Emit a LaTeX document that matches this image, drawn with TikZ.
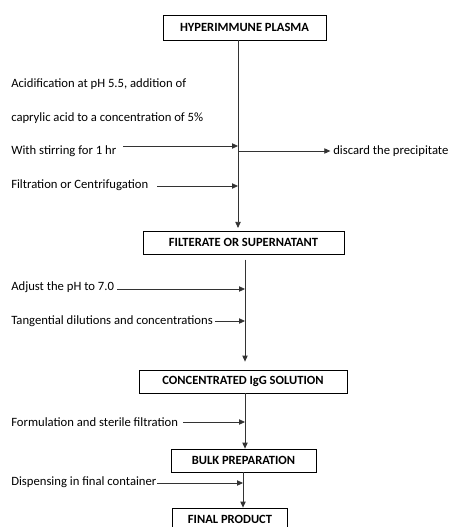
\documentclass[tikz,border=0pt]{standalone}
\usepackage{fontspec}
\setmainfont{Carlito}
\usetikzlibrary{arrows.meta,positioning}

\begin{document}
\begin{tikzpicture}[x=0.75pt,y=-0.75pt,
	stepbox/.style={draw,line width=0.6pt,inner sep=0pt,font=\fontsize{9.4}{11}\selectfont\bfseries},
	note/.style={anchor=west,inner sep=0pt,font=\fontsize{9.5}{11}\selectfont},
	flow/.style={-{Triangle[length=4.5pt,width=4pt]},line width=0.6pt,black!80}]
	\clip (0,0) rectangle (452,527);
	\useasboundingbox (0,0) rectangle (452,527);

	% process boxes
	\node[stepbox,minimum width=122.25pt,minimum height=18.75pt] (B1) at (244.5,27.5) {HYPERIMMUNE PLASMA};
	\node[stepbox,minimum width=150.75pt,minimum height=17.25pt] (B2) at (243.5,242.5) {FILTERATE OR SUPERNATANT};
	\node[stepbox,minimum width=156pt,minimum height=17.25pt] (B3) at (243,381.5) {CONCENTRATED IgG SOLUTION};
	\node[stepbox,minimum width=108.75pt,minimum height=17.25pt] (B4) at (243.5,460.5) {BULK PREPARATION};
	\node[stepbox,minimum width=86.25pt,minimum height=17.25pt] (B5) at (230,519.5) {FINAL PRODUCT};

	% side notes
	\node[note] (T1) at (11,84) {Acidification at pH 5.5, addition of};
	\node[note] (T2) at (11,118) {caprylic acid to a concentration of 5\%};
	\node[note] (T3) at (11,151) {With stirring for 1 hr};
	\node[note] (T4) at (333,151) {discard the precipitate};
	\node[note] (T5) at (11,185) {Filtration or Centrifugation};
	\node[note] (T6) at (11,287) {Adjust the pH to 7.0};
	\node[note] (T7) at (11,321) {Tangential dilutions and concentrations};
	\node[note] (T8) at (11,422) {Formulation and sterile filtration};
	\node[note] (T9) at (11,482) {Dispensing in final container};

	% spines and arrow starts
	\coordinate (S1) at (238,0);
	\coordinate (S2) at (245,0);
	\coordinate (S4) at (243,0);
	\coordinate (A3) at (123,146);
	\coordinate (A4) at (238,151);
	\coordinate (A5) at (157,186);
	\coordinate (A6) at (117,289);
	\coordinate (A7) at (215,321);
	\coordinate (A8) at (183,422);
	\coordinate (A9) at (157,483);

	\draw[flow,shorten >=2pt] (B1.south -| S1) -- (B2.north -| S1);
	\draw[flow,shorten >=6pt] ([yshift=-4pt]B2.south -| S2) -- (B3.north -| S2);
	\draw[flow] (B3.south -| S2) -- (B4.north -| S2);
	\draw[flow] (B4.south -| S4) -- (B5.north -| S4);

	\path[flow] (A3) edge (A3 -| S1)
		(A4) edge ([xshift=-2pt]T4.west |- A4)
		(A5) edge (A5 -| S1)
		(A6) edge (A6 -| S2)
		(A7) edge (A7 -| S2)
		(A8) edge (A8 -| S2)
		(A9) edge (A9 -| S4);
\end{tikzpicture}
\end{document}
